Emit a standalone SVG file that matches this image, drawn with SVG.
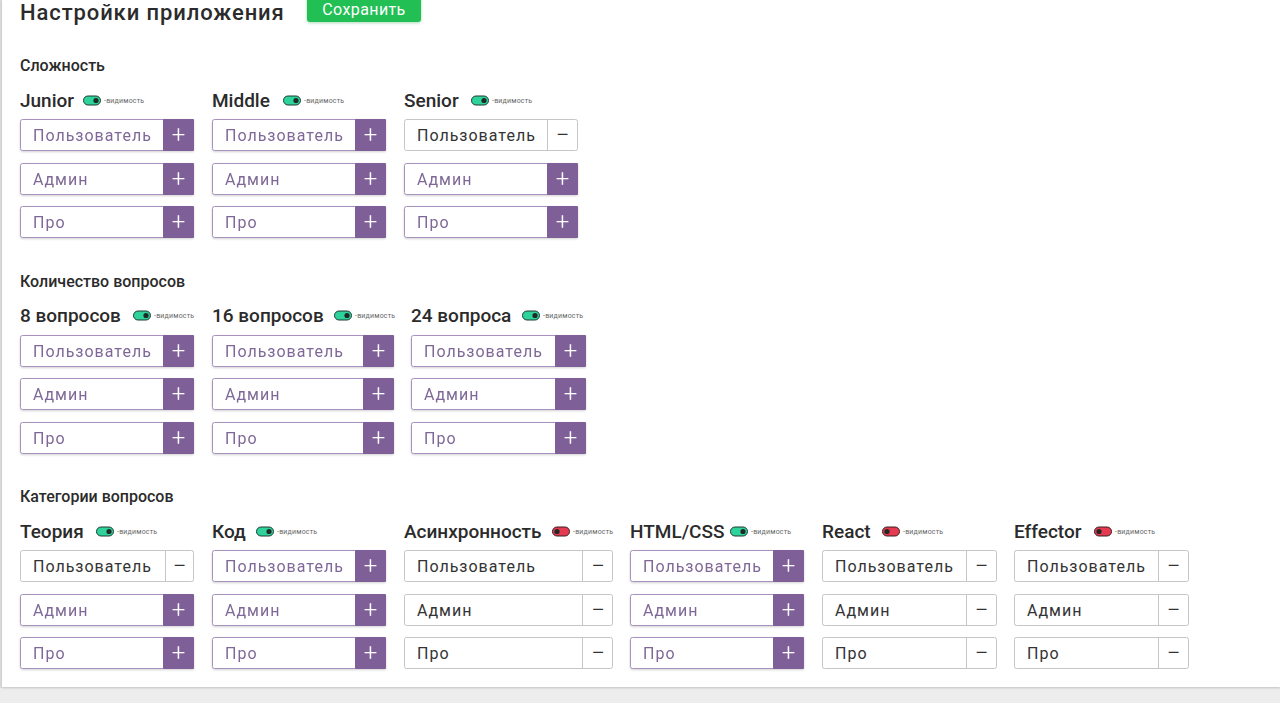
<svg xmlns="http://www.w3.org/2000/svg" width="1280" height="703" viewBox="0 0 1280 703">
<defs>
<style>
.h1{font-family:Roboto,"Noto Sans",sans-serif;font-size:22px;font-weight:500;fill:#2b2b2b;letter-spacing:0.9px}
.h2{font-family:Roboto,"Noto Sans",sans-serif;font-size:16px;font-weight:500;fill:#2b2b2b}
.lbl{font-family:Roboto,"Noto Sans",sans-serif;font-size:19px;font-weight:500;fill:#2b2b2b}
.vis{font-family:Roboto,"Noto Sans",sans-serif;font-size:7px;fill:#666;letter-spacing:0.2px}
.bt{font-family:Roboto,"Noto Sans",sans-serif;font-size:16px;letter-spacing:1px}
.on .frame{fill:#fff;stroke:#a992bf;stroke-width:1}
.on .box{fill:#7e5e97}
.on .bt{fill:#7f6897}
.on .sym{fill:#fff}
.off .frame{fill:#fff;stroke:#c6c6c6;stroke-width:1}
.off .sep{stroke:#c6c6c6;stroke-width:1}
.off .bt{fill:#333}
.off .sym{fill:#333}
.sym{font-family:Roboto,"Noto Sans",sans-serif;font-size:24px;font-weight:300;text-anchor:middle}
.tg-on{fill:#2ed39b;stroke:#1f3a31;stroke-width:1}
.tg-off{fill:#e63a50;stroke:#3a1f24;stroke-width:1}
.dot{fill:#1f2a26}
.save{font-family:Roboto,"Noto Sans",sans-serif;font-size:16px;fill:#fff;text-anchor:middle;letter-spacing:0.4px}
</style>
<filter id="sh" x="-10%" y="-20%" width="120%" height="150%">
<feDropShadow dx="0" dy="1" stdDeviation="1.2" flood-color="#000" flood-opacity="0.18"/>
</filter>
<filter id="gsh" x="-10%" y="-20%" width="120%" height="160%">
<feDropShadow dx="0" dy="1" stdDeviation="1.5" flood-color="#1a8f3a" flood-opacity="0.35"/>
</filter>
</defs>
<rect x="0" y="0" width="1280" height="703" fill="#ededed"/>
<rect x="0" y="0" width="2" height="688" fill="#dcdcdc"/>
<rect x="2" y="0" width="1278" height="687" fill="#fff" filter="url(#sh)"/>

<g id="header">
<text class="h1" x="20" y="20">Настройки приложения</text>
<g id="save-btn">
<rect x="307" y="-5" width="114" height="27" rx="3" fill="#20bf55" filter="url(#gsh)"/>
<text class="save" x="364" y="15">Сохранить</text>
</g>
</g>

<g id="section-complexity">
<text class="h2" x="20" y="71">Сложность</text>
<g id="junior">
<text class="lbl" x="20" y="107">Junior</text>
<rect class="tg-on" x="83.5" y="96" width="17" height="9" rx="4.5"/><circle class="dot" cx="96" cy="100.5" r="2.6"/>
<text class="vis" x="104" y="103">-видимость</text>
<g class="on" filter="url(#sh)"><rect class="frame" x="20.5" y="119.5" width="173" height="31" rx="2"/><rect class="box" x="163" y="119" width="31" height="32" rx="1"/><text class="bt" x="33" y="141">Пользователь</text><text class="sym" x="178.5" y="143">+</text></g>
<g class="on" filter="url(#sh)"><rect class="frame" x="20.5" y="163.5" width="173" height="31" rx="2"/><rect class="box" x="163" y="163" width="31" height="32" rx="1"/><text class="bt" x="33" y="185">Админ</text><text class="sym" x="178.5" y="187">+</text></g>
<g class="on" filter="url(#sh)"><rect class="frame" x="20.5" y="206.5" width="173" height="31" rx="2"/><rect class="box" x="163" y="206" width="31" height="32" rx="1"/><text class="bt" x="33" y="228">Про</text><text class="sym" x="178.5" y="230">+</text></g>
</g>
<g id="middle">
<text class="lbl" x="212" y="107">Middle</text>
<rect class="tg-on" x="283.5" y="96" width="17" height="9" rx="4.5"/><circle class="dot" cx="296" cy="100.5" r="2.6"/>
<text class="vis" x="304" y="103">-видимость</text>
<g class="on" filter="url(#sh)"><rect class="frame" x="212.5" y="119.5" width="173" height="31" rx="2"/><rect class="box" x="355" y="119" width="31" height="32" rx="1"/><text class="bt" x="225" y="141">Пользователь</text><text class="sym" x="370.5" y="143">+</text></g>
<g class="on" filter="url(#sh)"><rect class="frame" x="212.5" y="163.5" width="173" height="31" rx="2"/><rect class="box" x="355" y="163" width="31" height="32" rx="1"/><text class="bt" x="225" y="185">Админ</text><text class="sym" x="370.5" y="187">+</text></g>
<g class="on" filter="url(#sh)"><rect class="frame" x="212.5" y="206.5" width="173" height="31" rx="2"/><rect class="box" x="355" y="206" width="31" height="32" rx="1"/><text class="bt" x="225" y="228">Про</text><text class="sym" x="370.5" y="230">+</text></g>
</g>
<g id="senior">
<text class="lbl" x="404" y="107">Senior</text>
<rect class="tg-on" x="471.5" y="96" width="17" height="9" rx="4.5"/><circle class="dot" cx="484" cy="100.5" r="2.6"/>
<text class="vis" x="492" y="103">-видимость</text>
<g class="off"><rect class="frame" x="404.5" y="119.5" width="173" height="31" rx="2"/><line class="sep" x1="547.5" y1="120" x2="547.5" y2="150"/><text class="bt" x="417" y="141">Пользователь</text><text class="sym" x="562.5" y="143">−</text></g>
<g class="on" filter="url(#sh)"><rect class="frame" x="404.5" y="163.5" width="173" height="31" rx="2"/><rect class="box" x="547" y="163" width="31" height="32" rx="1"/><text class="bt" x="417" y="185">Админ</text><text class="sym" x="562.5" y="187">+</text></g>
<g class="on" filter="url(#sh)"><rect class="frame" x="404.5" y="206.5" width="173" height="31" rx="2"/><rect class="box" x="547" y="206" width="31" height="32" rx="1"/><text class="bt" x="417" y="228">Про</text><text class="sym" x="562.5" y="230">+</text></g>
</g>
</g>

<g id="section-count">
<text class="h2" x="20" y="287">Количество вопросов</text>
<g id="q8">
<text class="lbl" x="20" y="322">8 вопросов</text>
<rect class="tg-on" x="133.5" y="311" width="17" height="9" rx="4.5"/><circle class="dot" cx="146" cy="315.5" r="2.6"/>
<text class="vis" x="154" y="318">-видимость</text>
<g class="on" filter="url(#sh)"><rect class="frame" x="20.5" y="335.5" width="173" height="31" rx="2"/><rect class="box" x="163" y="335" width="31" height="32" rx="1"/><text class="bt" x="33" y="357">Пользователь</text><text class="sym" x="178.5" y="359">+</text></g>
<g class="on" filter="url(#sh)"><rect class="frame" x="20.5" y="378.5" width="173" height="31" rx="2"/><rect class="box" x="163" y="378" width="31" height="32" rx="1"/><text class="bt" x="33" y="400">Админ</text><text class="sym" x="178.5" y="402">+</text></g>
<g class="on" filter="url(#sh)"><rect class="frame" x="20.5" y="422.5" width="173" height="31" rx="2"/><rect class="box" x="163" y="422" width="31" height="32" rx="1"/><text class="bt" x="33" y="444">Про</text><text class="sym" x="178.5" y="446">+</text></g>
</g>
<g id="q16">
<text class="lbl" x="212" y="322">16 вопросов</text>
<rect class="tg-on" x="334.5" y="311" width="17" height="9" rx="4.5"/><circle class="dot" cx="347" cy="315.5" r="2.6"/>
<text class="vis" x="355" y="318">-видимость</text>
<g class="on" filter="url(#sh)"><rect class="frame" x="212.5" y="335.5" width="181" height="31" rx="2"/><rect class="box" x="363" y="335" width="31" height="32" rx="1"/><text class="bt" x="225" y="357">Пользователь</text><text class="sym" x="378.5" y="359">+</text></g>
<g class="on" filter="url(#sh)"><rect class="frame" x="212.5" y="378.5" width="181" height="31" rx="2"/><rect class="box" x="363" y="378" width="31" height="32" rx="1"/><text class="bt" x="225" y="400">Админ</text><text class="sym" x="378.5" y="402">+</text></g>
<g class="on" filter="url(#sh)"><rect class="frame" x="212.5" y="422.5" width="181" height="31" rx="2"/><rect class="box" x="363" y="422" width="31" height="32" rx="1"/><text class="bt" x="225" y="444">Про</text><text class="sym" x="378.5" y="446">+</text></g>
</g>
<g id="q24">
<text class="lbl" x="411" y="322">24 вопроса</text>
<rect class="tg-on" x="522.5" y="311" width="17" height="9" rx="4.5"/><circle class="dot" cx="535" cy="315.5" r="2.6"/>
<text class="vis" x="543" y="318">-видимость</text>
<g class="on" filter="url(#sh)"><rect class="frame" x="411.5" y="335.5" width="173" height="31" rx="2"/><rect class="box" x="555" y="335" width="31" height="32" rx="1"/><text class="bt" x="424" y="357">Пользователь</text><text class="sym" x="570.5" y="359">+</text></g>
<g class="on" filter="url(#sh)"><rect class="frame" x="411.5" y="378.5" width="173" height="31" rx="2"/><rect class="box" x="555" y="378" width="31" height="32" rx="1"/><text class="bt" x="424" y="400">Админ</text><text class="sym" x="570.5" y="402">+</text></g>
<g class="on" filter="url(#sh)"><rect class="frame" x="411.5" y="422.5" width="173" height="31" rx="2"/><rect class="box" x="555" y="422" width="31" height="32" rx="1"/><text class="bt" x="424" y="444">Про</text><text class="sym" x="570.5" y="446">+</text></g>
</g>
</g>

<g id="section-categories">
<text class="h2" x="20" y="502">Категории вопросов</text>
<g id="theory">
<text class="lbl" x="20" y="538">Теория</text>
<rect class="tg-on" x="96.5" y="527" width="17" height="9" rx="4.5"/><circle class="dot" cx="109" cy="531.5" r="2.6"/>
<text class="vis" x="117" y="534">-видимость</text>
<g class="off"><rect class="frame" x="20.5" y="550.5" width="173" height="31" rx="2"/><line class="sep" x1="165.5" y1="551" x2="165.5" y2="581"/><text class="bt" x="33" y="572">Пользователь</text><text class="sym" x="179.5" y="574">−</text></g>
<g class="on" filter="url(#sh)"><rect class="frame" x="20.5" y="594.5" width="173" height="31" rx="2"/><rect class="box" x="163" y="594" width="31" height="32" rx="1"/><text class="bt" x="33" y="616">Админ</text><text class="sym" x="178.5" y="618">+</text></g>
<g class="on" filter="url(#sh)"><rect class="frame" x="20.5" y="637.5" width="173" height="31" rx="2"/><rect class="box" x="163" y="637" width="31" height="32" rx="1"/><text class="bt" x="33" y="659">Про</text><text class="sym" x="178.5" y="661">+</text></g>
</g>
<g id="code">
<text class="lbl" x="212" y="538">Код</text>
<rect class="tg-on" x="256.5" y="527" width="17" height="9" rx="4.5"/><circle class="dot" cx="269" cy="531.5" r="2.6"/>
<text class="vis" x="277" y="534">-видимость</text>
<g class="on" filter="url(#sh)"><rect class="frame" x="212.5" y="550.5" width="173" height="31" rx="2"/><rect class="box" x="355" y="550" width="31" height="32" rx="1"/><text class="bt" x="225" y="572">Пользователь</text><text class="sym" x="370.5" y="574">+</text></g>
<g class="on" filter="url(#sh)"><rect class="frame" x="212.5" y="594.5" width="173" height="31" rx="2"/><rect class="box" x="355" y="594" width="31" height="32" rx="1"/><text class="bt" x="225" y="616">Админ</text><text class="sym" x="370.5" y="618">+</text></g>
<g class="on" filter="url(#sh)"><rect class="frame" x="212.5" y="637.5" width="173" height="31" rx="2"/><rect class="box" x="355" y="637" width="31" height="32" rx="1"/><text class="bt" x="225" y="659">Про</text><text class="sym" x="370.5" y="661">+</text></g>
</g>
<g id="async">
<text class="lbl" x="404" y="538">Асинхронность</text>
<rect class="tg-off" x="552.5" y="527" width="17" height="9" rx="4.5"/><circle class="dot" cx="557" cy="531.5" r="2.6"/>
<text class="vis" x="573" y="534">-видимость</text>
<g class="off"><rect class="frame" x="404.5" y="550.5" width="208" height="31" rx="2"/><line class="sep" x1="582.5" y1="551" x2="582.5" y2="581"/><text class="bt" x="417" y="572">Пользователь</text><text class="sym" x="598" y="574">−</text></g>
<g class="off"><rect class="frame" x="404.5" y="594.5" width="208" height="31" rx="2"/><line class="sep" x1="582.5" y1="595" x2="582.5" y2="625"/><text class="bt" x="417" y="616">Админ</text><text class="sym" x="598" y="618">−</text></g>
<g class="off"><rect class="frame" x="404.5" y="637.5" width="208" height="31" rx="2"/><line class="sep" x1="582.5" y1="638" x2="582.5" y2="668"/><text class="bt" x="417" y="659">Про</text><text class="sym" x="598" y="661">−</text></g>
</g>
<g id="htmlcss">
<text class="lbl" x="630" y="538">HTML/CSS</text>
<rect class="tg-on" x="730.5" y="527" width="17" height="9" rx="4.5"/><circle class="dot" cx="743" cy="531.5" r="2.6"/>
<text class="vis" x="751" y="534">-видимость</text>
<g class="on" filter="url(#sh)"><rect class="frame" x="630.5" y="550.5" width="173" height="31" rx="2"/><rect class="box" x="773" y="550" width="31" height="32" rx="1"/><text class="bt" x="643" y="572">Пользователь</text><text class="sym" x="788.5" y="574">+</text></g>
<g class="on" filter="url(#sh)"><rect class="frame" x="630.5" y="594.5" width="173" height="31" rx="2"/><rect class="box" x="773" y="594" width="31" height="32" rx="1"/><text class="bt" x="643" y="616">Админ</text><text class="sym" x="788.5" y="618">+</text></g>
<g class="on" filter="url(#sh)"><rect class="frame" x="630.5" y="637.5" width="173" height="31" rx="2"/><rect class="box" x="773" y="637" width="31" height="32" rx="1"/><text class="bt" x="643" y="659">Про</text><text class="sym" x="788.5" y="661">+</text></g>
</g>
<g id="react">
<text class="lbl" x="822" y="538">React</text>
<rect class="tg-off" x="882.5" y="527" width="17" height="9" rx="4.5"/><circle class="dot" cx="887" cy="531.5" r="2.6"/>
<text class="vis" x="903" y="534">-видимость</text>
<g class="off"><rect class="frame" x="822.5" y="550.5" width="174" height="31" rx="2"/><line class="sep" x1="966.5" y1="551" x2="966.5" y2="581"/><text class="bt" x="835" y="572">Пользователь</text><text class="sym" x="981.5" y="574">−</text></g>
<g class="off"><rect class="frame" x="822.5" y="594.5" width="174" height="31" rx="2"/><line class="sep" x1="966.5" y1="595" x2="966.5" y2="625"/><text class="bt" x="835" y="616">Админ</text><text class="sym" x="981.5" y="618">−</text></g>
<g class="off"><rect class="frame" x="822.5" y="637.5" width="174" height="31" rx="2"/><line class="sep" x1="966.5" y1="638" x2="966.5" y2="668"/><text class="bt" x="835" y="659">Про</text><text class="sym" x="981.5" y="661">−</text></g>
</g>
<g id="effector">
<text class="lbl" x="1014" y="538">Effector</text>
<rect class="tg-off" x="1094.5" y="527" width="17" height="9" rx="4.5"/><circle class="dot" cx="1099" cy="531.5" r="2.6"/>
<text class="vis" x="1115" y="534">-видимость</text>
<g class="off"><rect class="frame" x="1014.5" y="550.5" width="174" height="31" rx="2"/><line class="sep" x1="1158.5" y1="551" x2="1158.5" y2="581"/><text class="bt" x="1027" y="572">Пользователь</text><text class="sym" x="1173.5" y="574">−</text></g>
<g class="off"><rect class="frame" x="1014.5" y="594.5" width="174" height="31" rx="2"/><line class="sep" x1="1158.5" y1="595" x2="1158.5" y2="625"/><text class="bt" x="1027" y="616">Админ</text><text class="sym" x="1173.5" y="618">−</text></g>
<g class="off"><rect class="frame" x="1014.5" y="637.5" width="174" height="31" rx="2"/><line class="sep" x1="1158.5" y1="638" x2="1158.5" y2="668"/><text class="bt" x="1027" y="659">Про</text><text class="sym" x="1173.5" y="661">−</text></g>
</g>
</g>
</svg>
